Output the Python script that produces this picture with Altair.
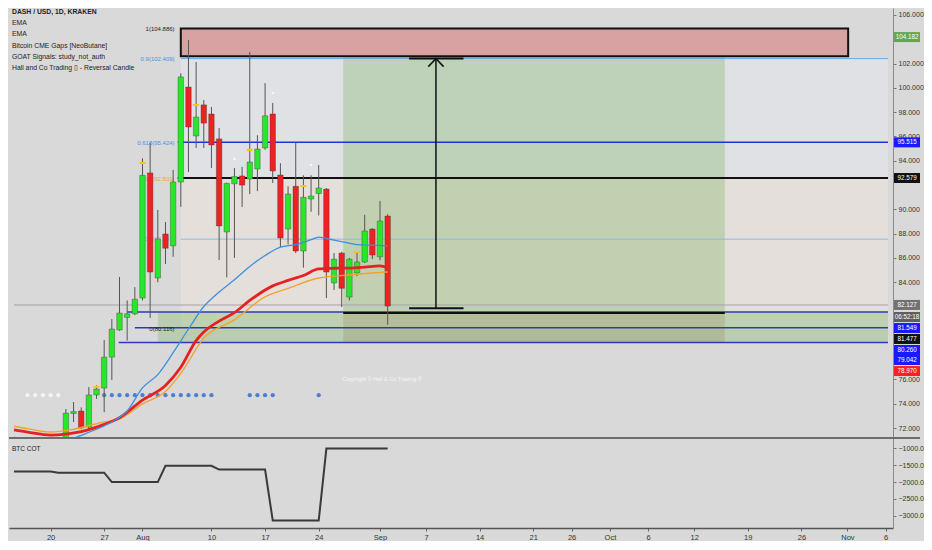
import altair as alt
import pandas as pd

# ---------------- candles (bar index: 0 = Jul 20, one bar per day) ----------------
bars = [2, 3, 4, 5, 6, 7, 8, 9, 10, 11, 12, 13, 14, 15, 16, 17, 18, 19, 20, 21, 22, 23,
        24, 25, 26, 27, 28, 29, 30, 31, 32, 33, 34, 35, 36, 37, 38, 39, 40, 41, 42, 43, 44]
opens = [70.8, 73.2, 73.4, 72.08, 74.72, 75.29, 77.84, 80.07, 81.1, 81.4, 82.7, 93.0, 84.35,
         87.97, 87.0, 92.25, 100.07, 96.04, 98.6, 97.85, 95.8, 88.14, 92.1, 92.75, 92.5, 93.32,
         95.05, 97.85, 92.83, 88.38, 91.9, 86.57, 90.85, 91.3, 91.67, 83.94, 86.4, 82.78, 84.76,
         85.67, 88.38, 86.1, 89.45]
highs = [73.56, 74.14, 73.7, 75.37, 75.5, 79.24, 80.97, 84.43, 82.5, 83.6, 94.2, 95.46, 89.95,
         88.96, 93.24, 101.2, 103.94, 102.13, 99.0, 98.43, 96.7, 92.2, 93.4, 93.5, 102.95, 96.1,
         100.4, 98.76, 93.8, 91.9, 95.46, 92.8, 92.8, 93.65, 91.76, 86.4, 86.5, 86.0, 86.5,
         89.55, 88.46, 90.7, 89.6]
lows = [70.5, 72.49, 71.9, 71.8, 74.4, 73.3, 75.95, 80.0, 79.2, 81.3, 82.5, 81.06, 84.0,
        85.5, 86.1, 90.2, 93.08, 95.05, 95.05, 93.4, 85.83, 84.4, 86.0, 90.2, 91.26, 91.5,
        94.9, 92.17, 86.9, 87.1, 86.4, 85.2, 89.8, 89.5, 82.7, 83.36, 81.96, 82.5, 84.5,
        85.58, 85.9, 85.8, 80.5]
closes = [73.23, 73.35, 72.0, 74.72, 75.21, 77.84, 80.15, 81.47, 81.4, 82.6, 92.8, 84.84, 87.56,
          86.8, 92.25, 100.9, 96.78, 97.6, 97.1, 95.3, 88.63, 92.14, 92.7, 92.0, 93.9, 94.97,
          97.7, 93.16, 87.64, 91.26, 86.57, 91.0, 91.1, 91.76, 84.84, 85.9, 83.5, 85.9, 85.67,
          88.22, 86.24, 89.04, 82.04]

# ---------------- EMAs ----------------
ema_fast_bar = [-4.77, -3, 0, 2, 4, 6, 8, 10, 12, 14, 16, 18, 20, 22, 24, 26, 28, 30, 32, 34, 35, 36, 38, 40, 42, 44]
ema_fast_val = [71.25, 70.9, 70.6, 70.9, 71.4, 71.9, 72.5, 73.4, 75.3, 76.4, 78.2, 80.15, 82.0, 83.2,
                84.2, 85.3, 86.2, 86.9, 87.1, 87.5, 87.72, 87.6, 87.35, 87.1, 87.05, 87.0]
ema_mid_bar = [-4.77, -3, 0, 2, 4, 7, 9, 12, 15, 17, 19, 20, 22, 24, 26, 29, 31, 33, 35, 37, 39, 41, 43, 44]
ema_mid_val = [71.85, 71.67, 71.42, 71.5, 71.7, 72.3, 72.85, 74.3, 75.5, 77.0, 79.2, 79.9, 80.8, 81.5, 82.5,
               83.7, 84.15, 84.55, 85.1, 85.15, 85.17, 85.25, 85.35, 85.2]
ema_slow_bar = [-4.77, -3, 0, 3, 7, 9, 12, 15, 17, 20, 24, 28, 31, 35, 39, 44]
ema_slow_val = [72.15, 71.95, 71.67, 71.9, 72.5, 72.74, 73.98, 75.0, 76.5, 79.4, 80.9, 82.8, 83.5, 84.35, 84.6, 84.84]

# ---------------- signals ----------------
white_dot_bar = [-3, -2, -1, 0, 1]
blue_dot_bar = [7, 8, 9, 10, 11, 12, 13, 14, 15, 16, 17, 18, 19, 20, 21, 26, 27, 28, 29, 35]
dot_price = 74.7
marker_bar = [6, 12, 19, 26, 33, 40]
marker_price = [75.37, 93.82, 98.59, 94.89, 91.92, 86.49]
wdot_bar = [24, 29, 34]
wdot_price = [94.15, 99.58, 93.65]

# ---------------- BTC COT ----------------
cot_bar = [-4.77, 0, 1, 7, 8, 14, 15, 21, 22, 28, 29, 35, 36, 44]
cot_val = [-1686, -1686, -1722, -1722, -2000, -2000, -1519, -1519, -1631, -1631, -3139, -3139, -1008, -1008]

# ---------------- drawings ----------------
fib_levels = ["1(104.886)", "0.9(102.409)", "0.618(95.424)", "0.5(92.501)", "0.3(87.547)", "0(80.116)"]
fib_prices = [104.886, 102.409, 95.424, 92.501, 87.547, 80.116]
fib_start = 17
supply_box = [17, 104.1, 102.6, 104.886]          # bar from, bar to, low, high
long_box = [38.2, 88.0, 81.477, 104.182]
stop_box = [38.2, 88.0, 79.042, 81.477]
gap_band = [14, 79.042, 81.549]
measure_bar = [46.8, 50.3, 53.9]
measure_prices = [81.85, 102.409]

h_prices = [102.409, 95.515, 92.579, 87.547, 82.127, 81.549, 80.26, 79.042, 81.477, 102.409, 81.85]

axis_tags = ["104.182", "95.515", "92.579", "82.127", "06:52:18", "81.549", "81.477", "80.260", "79.042", "78.970"]
axis_tag_at = [104.182, 95.515, 92.579, 82.13, 81.14, 80.23, 79.33, 78.42, 77.60, 76.69]

legend_lines = ["DASH / USD, 1D, KRAKEN", "EMA", "EMA", "Bitcoin CME Gaps [NeoButane]",
                "GOAT Signals: study_not_auth", "Hall and Co Trading \u25af - Reversal Candle"]

tick_pos = [0, 7, 12, 21, 28, 35, 43, 49, 56, 63, 68, 73, 78, 84, 91, 98, 104, 109]
tick_txt = ["20", "27", "Aug", "10", "17", "24", "Sep", "7", "14", "21", "26", "Oct", "6", "12", "19", "26", "Nov", "6"]
price_ticks = [72, 74, 76, 84, 86, 88, 90, 94, 96, 98, 100, 102, 106]
cot_ticks = [-1000, -1500, -2000, -2500, -3000]

# ---------------- layout / style ----------------
FONT = "Liberation Sans, Arial, sans-serif"
W, H1, H2 = 884, 429, 90
X0, X1 = -4.77, 109.3
xsc = alt.Scale(domain=[X0, X1], nice=False, zero=False)
ysc = alt.Scale(domain=[71.26, 106.576], nice=False, zero=False)
csc = alt.Scale(domain=[-3361, -694], nice=False, zero=False)

yaxis = alt.Axis(orient="right", values=price_ticks, format=".3f", title=None, grid=False,
                 labelFontSize=7, labelColor="#333333", labelFont=FONT, tickSize=3,
                 tickColor="#777777", domainColor="#8a8a8a", labelPadding=2, labelOverlap=False)
caxis = alt.Axis(orient="right", values=cot_ticks, format=".1f", title=None, grid=False,
                 labelFontSize=7, labelColor="#333333", labelFont=FONT, tickSize=3,
                 tickColor="#777777", domainColor="#8a8a8a", labelPadding=2, labelOverlap=False)
label_expr = ("[" + ",".join("'%s'" % t for t in tick_txt) + "][indexof(["
              + ",".join(str(p) for p in tick_pos) + "], datum.value)]")
xaxis = alt.Axis(values=tick_pos, labelExpr=label_expr, title=None, grid=False, labelFontSize=7.5,
                 labelColor="#333333", labelFont=FONT, tickSize=3, tickColor="#666666",
                 domainColor="#555555", domainWidth=1.5, labelPadding=2, labelOverlap=False)


def X(f):
    return alt.X(f, scale=xsc, axis=None)


def Y(f):
    return alt.Y(f, scale=ysc, axis=yaxis)


layers = []

# background zones
zones = pd.DataFrame({
    "x0": [fib_start, fib_start, long_box[0], gap_band[0], stop_box[0]],
    "x1": [X1, X1, long_box[1], X1, stop_box[1]],
    "lo": [fib_prices[3], fib_prices[5], long_box[2], gap_band[1], stop_box[2]],
    "hi": [fib_prices[1], fib_prices[3], long_box[3], gap_band[2], stop_box[3]],
    "fill": ["#e0e1e4", "#e4dfda", "#7fb86a", "#9cc486", "#8a7a40"],
    "op": [1.0, 1.0, 0.36, 0.5, 0.22],
})
layers.append(alt.Chart(zones).mark_rect(clip=True).encode(
    x=X("x0:Q"), x2="x1:Q", y=Y("lo:Q"), y2="hi:Q",
    color=alt.Color("fill:N", scale=None), opacity=alt.Opacity("op:Q", scale=None)))

# supply box
sb = pd.DataFrame({"x0": [supply_box[0]], "x1": [supply_box[1]], "lo": [supply_box[2]], "hi": [supply_box[3]]})
layers.append(alt.Chart(sb).mark_rect(clip=True, fill="#d9a2a2", stroke="#111111", strokeWidth=2).encode(
    x=X("x0:Q"), x2="x1:Q", y=Y("lo:Q"), y2="hi:Q"))

# horizontal levels
h_from = [fib_start, 16.6, 16.6, fib_start, X0, 10, 11, 8.9, long_box[0], measure_bar[0], measure_bar[0]]
h_to = [X1, X1, X1, X1, X1, X1, X1, X1, long_box[1], measure_bar[2], measure_bar[2]]
h_col = ["#6ea8e6", "#1c34e6", "#111111", "#8dbbe6", "#a3a3a3", "#2a3cb4", "#2a3cb4", "#2a3cb4",
         "#111111", "#111111", "#111111"]
h_w = [1, 1.5, 2, 1, 1, 1.5, 1.5, 1.5, 2, 2, 2]
hl = pd.DataFrame({"p": h_prices, "a": h_from, "b": h_to, "c": h_col, "w": h_w})
layers.append(alt.Chart(hl).mark_rule(clip=True).encode(
    x=X("a:Q"), x2="b:Q", y=Y("p:Q"),
    color=alt.Color("c:N", scale=None), strokeWidth=alt.StrokeWidth("w:Q", scale=None)))

# fib labels
fl = pd.DataFrame({"t": fib_levels, "p": fib_prices,
                   "c": ["#222222", "#4a90e2", "#4a90e2", "#f0a030", "#8dbbe6", "#222222"]})
layers.append(alt.Chart(fl).mark_text(align="right", baseline="middle", fontSize=6, font=FONT).encode(
    x=alt.value((16.6 - X0) * W / (X1 - X0)), y=Y("p:Q"), text="t:N", color=alt.Color("c:N", scale=None)))

# copyright
cp = pd.DataFrame({"b": [38.1], "p": [76.03], "t": ["Copyright \u00a9  Hall & Co Trading \u00ae"]})
layers.append(alt.Chart(cp).mark_text(align="left", baseline="middle", fontSize=5.5, font=FONT,
                                      color="#ffffff", opacity=0.75).encode(x=X("b:Q"), y=Y("p:Q"), text="t:N"))

# dots
dots = pd.DataFrame({"b": white_dot_bar + blue_dot_bar, "p": [dot_price] * (len(white_dot_bar) + len(blue_dot_bar)),
                     "c": ["#f4f4f4"] * len(white_dot_bar) + ["#4c7fd4"] * len(blue_dot_bar)})
layers.append(alt.Chart(dots).mark_circle(size=18, opacity=1, clip=True).encode(
    x=X("b:Q"), y=Y("p:Q"), color=alt.Color("c:N", scale=None)))

# candles
cdf = pd.DataFrame({"b": bars, "o": opens, "h": highs, "l": lows, "c": closes})
cdf["dir"] = ["up" if c >= o else "down" for o, c in zip(opens, closes)]
layers.append(alt.Chart(cdf).mark_rule(clip=True, color="#555555", strokeWidth=1).encode(
    x=X("b:Q"), y=Y("l:Q"), y2="h:Q"))
layers.append(alt.Chart(cdf).mark_bar(clip=True, size=5.5, stroke="#333333", strokeWidth=0.5, strokeOpacity=0.7).encode(
    x=X("b:Q"), y=Y("o:Q"), y2="c:Q",
    color=alt.Color("dir:N", scale=alt.Scale(domain=["up", "down"], range=["#2ae62a", "#ee2222"]), legend=None)))

# EMAs
for eb, ev, col, sw in [(ema_slow_bar, ema_slow_val, "#f5a22a", 1.4),
                        (ema_mid_bar, ema_mid_val, "#e42222", 2.8),
                        (ema_fast_bar, ema_fast_val, "#3d8fe0", 1.3)]:
    edf = pd.DataFrame({"b": eb, "v": ev})
    layers.append(alt.Chart(edf).mark_line(clip=True, color=col, strokeWidth=sw, interpolate="monotone").encode(
        x=X("b:Q"), y=Y("v:Q")))

# reversal markers and small dots
mk = pd.DataFrame({"b": marker_bar, "p": marker_price})
layers.append(alt.Chart(mk).mark_point(shape="M-1,-0.35L1,-0.35L1,0.35L-1,0.35Z", filled=True, size=36,
                                       color="#f5c518", opacity=1, clip=True).encode(x=X("b:Q"), y=Y("p:Q")))
wd = pd.DataFrame({"b": wdot_bar, "p": wdot_price})
layers.append(alt.Chart(wd).mark_circle(size=6, color="#f8f8f8", opacity=1, clip=True).encode(x=X("b:Q"), y=Y("p:Q")))

# measure arrow
ma = pd.DataFrame({"b": [measure_bar[1]], "lo": [measure_prices[0]], "hi": [measure_prices[1]]})
layers.append(alt.Chart(ma).mark_rule(color="#111111", strokeWidth=1.5).encode(x=X("b:Q"), y=Y("lo:Q"), y2="hi:Q"))
ah = pd.DataFrame({"b": [measure_bar[1] - 1, measure_bar[1], measure_bar[1] + 1],
                   "p": [measure_prices[1] - 0.66, measure_prices[1], measure_prices[1] - 0.66], "o": [0, 1, 2]})
layers.append(alt.Chart(ah).mark_line(color="#111111", strokeWidth=1.5).encode(
    x=X("b:Q"), y=Y("p:Q"), order="o:Q"))

# right-axis price tags
tag_bg = ["#62a854", "#1a1aff", "#111111", "#727272", "#5f5f5f", "#1a1aff", "#111111", "#1a1aff", "#1a1aff", "#ff2020"]
tg = pd.DataFrame({"t": axis_tags, "p": axis_tag_at, "c": tag_bg})
layers.append(alt.Chart(tg).mark_rect(yOffset=-5, y2Offset=5).encode(
    x=alt.value(W + 1), x2=alt.value(W + 27), y=Y("p:Q"), y2="p:Q", color=alt.Color("c:N", scale=None)))
layers.append(alt.Chart(tg).mark_text(fontSize=6.3, font=FONT, color="#ffffff", align="center", baseline="middle").encode(
    x=alt.value(W + 14), y=Y("p:Q"), text="t:N"))

# legend text
for i, line in enumerate(legend_lines):
    ldf = pd.DataFrame({"t": [line]})
    layers.append(alt.Chart(ldf).mark_text(align="left", baseline="middle", fontSize=6.8, font=FONT,
                                           color="#222222", fontWeight="bold" if i == 0 else "normal").encode(
        x=alt.value(3), y=alt.value(4 + i * 11.2), text="t:N"))

main = alt.layer(*layers).properties(width=W, height=H1)

# ---------------- COT panel ----------------
cot = pd.DataFrame({"b": cot_bar, "v": cot_val})
cot_line = alt.Chart(cot).mark_line(clip=True, color="#3a3a3a", strokeWidth=2).encode(
    x=alt.X("b:Q", scale=xsc, axis=xaxis), y=alt.Y("v:Q", scale=csc, axis=caxis))
sep = alt.Chart(pd.DataFrame({"t": ["BTC COT"]})).mark_rule(color="#4a4a4a", strokeWidth=1.5).encode(
    x=alt.value(0), x2=alt.value(W + 27), y=alt.value(0))
cot_title = alt.Chart(pd.DataFrame({"t": ["BTC COT"]})).mark_text(
    align="left", baseline="middle", fontSize=6.5, font=FONT, color="#222222").encode(
    x=alt.value(3), y=alt.value(11), text="t:N")
cot_panel = alt.layer(cot_line, sep, cot_title).properties(width=W, height=H2)

chart = (alt.vconcat(main, cot_panel, spacing=0)
         .resolve_scale(x="shared", y="independent")
         .properties(padding={"left": 0, "top": 0, "right": 0, "bottom": 0})
         .configure(background="#d9d9d9", font=FONT)
         .configure_view(stroke=None))

chart.save("out.html", embed_options={"renderer": "svg", "actions": False})
